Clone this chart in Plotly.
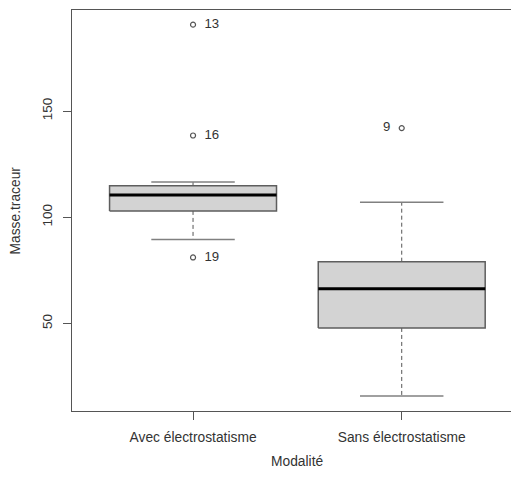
import plotly.graph_objects as go

groups = ["Avec électrostatisme", "Sans électrostatisme"]
q1 = [103.0, 47.9]
median = [110.5, 66.3]
q3 = [114.9, 79.1]
whisker_low = [89.6, 15.9]
whisker_high = [116.6, 107.1]

outlier_group = [0, 0, 0, 1]
outlier_value = [190.7, 138.5, 81.1, 142.0]
outlier_label = ["13", "16", "19", "9"]
outlier_side = ["middle right", "middle right", "middle right", "middle left"]

y_ticks = [50, 100, 150]

FONT = "Liberation Sans, Arial, sans-serif"
BOX_HALF = 0.4
CAP_HALF = 0.2

fig = go.Figure()
for i, g in enumerate(groups):
    x = i + 1
    fig.add_trace(go.Scatter(x=[x, x, None, x, x],
                             y=[q3[i], whisker_high[i], None, q1[i], whisker_low[i]],
                             mode="lines", line=dict(color="#555555", width=1, dash="4px,3px"),
                             hoverinfo="skip", showlegend=False))
    fig.add_trace(go.Scatter(x=[x - CAP_HALF, x + CAP_HALF, None, x - CAP_HALF, x + CAP_HALF],
                             y=[whisker_high[i], whisker_high[i], None, whisker_low[i], whisker_low[i]],
                             mode="lines", line=dict(color="#808080", width=1.5),
                             hoverinfo="skip", showlegend=False))
    fig.add_trace(go.Scatter(x=[x - BOX_HALF, x + BOX_HALF, x + BOX_HALF, x - BOX_HALF, x - BOX_HALF],
                             y=[q1[i], q1[i], q3[i], q3[i], q1[i]],
                             mode="lines", fill="toself", fillcolor="#D3D3D3",
                             line=dict(color="#5e5e5e", width=1.5),
                             hoverinfo="skip", showlegend=False))
    fig.add_trace(go.Scatter(x=[x - BOX_HALF, x + BOX_HALF], y=[median[i], median[i]],
                             mode="lines", line=dict(color="#000000", width=3),
                             hoverinfo="skip", showlegend=False))

fig.add_trace(go.Scatter(x=[g + 1 for g in outlier_group], y=outlier_value,
                         mode="markers+text", text=["  " + t + "  " for t in outlier_label],
                         textposition=outlier_side,
                         textfont=dict(family=FONT, size=13.2, color="#333333"),
                         marker=dict(symbol="circle-open", size=5, color="#555555", line=dict(width=1.2)),
                         hoverinfo="skip", showlegend=False))

# page body has an 8px default margin; figure is sized/offset to compensate
fig.update_layout(
    width=511, height=461,
    margin=dict(l=64, r=0, t=2, b=58, autoexpand=False),
    plot_bgcolor="white", paper_bgcolor="white",
    font=dict(family=FONT, size=13.8, color="#333333"),
    xaxis=dict(range=[0.42, 2.562], tickvals=[1, 2], ticktext=groups,
               showline=True, mirror=True, linecolor="#555555", linewidth=1.2,
               ticks="outside", ticklen=8, tickcolor="#555555",
               showgrid=False, zeroline=False, automargin=False,
               ticklabelstandoff=5,
               tickfont=dict(size=13.8)),
    yaxis=dict(range=[8.8, 197.6], tickvals=y_ticks,
               showline=True, linecolor="#555555", linewidth=1.2,
               ticks="outside", ticklen=8, tickcolor="#555555",
               tickangle=-90, ticklabelstandoff=6,
               showgrid=False, zeroline=False, automargin=False,
               tickfont=dict(size=13.5)),
    annotations=[
        dict(text="Modalité", x=1.5, xref="x", y=0, yref="paper",
             yanchor="middle", xanchor="center", yshift=-50, showarrow=False,
             font=dict(size=13.8, color="#333333")),
        dict(text="Masse.traceur", x=0, xref="paper", y=0.5, yref="paper",
             xanchor="center", yanchor="middle", xshift=-57, textangle=-90,
             showarrow=False, font=dict(size=13.8, color="#333333")),
    ],
)

fig.write_html("out.html")
